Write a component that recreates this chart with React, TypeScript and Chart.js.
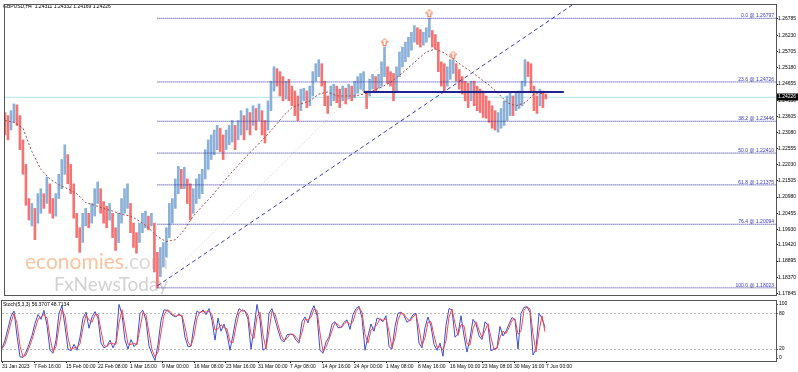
import React, { useEffect, useRef } from "react";
import { Chart, registerables } from "chart.js";

Chart.register(...registerables);

const AXIS_FONT = "'Liberation Sans', Arial, sans-serif";

// ---------- data ----------
const headerText = "GBPUSD,H4  1.24311 1.24332 1.24169 1.24226";
const stochHeaderText = "Stoch(5,3,3) 56.3707 48.7134";

// one entry every 3 H4 bars (x unit = 1 bar)
const barHighs = [
  1.2373, 1.2363, 1.2379, 1.2401, 1.2398, 1.2363, 1.2284, 1.2204, 1.2093, 1.2077,
  1.2061, 1.2109, 1.2125, 1.2109, 1.2163, 1.2141, 1.2093, 1.2109, 1.2172, 1.2220,
  1.2268, 1.2236, 1.2204, 1.2141, 1.2045, 1.1998, 1.2045, 1.2061, 1.2045, 1.2077,
  1.2125, 1.2147, 1.2125, 1.2083, 1.2068, 1.2077, 1.2045, 1.1998, 1.2045, 1.2093,
  1.2125, 1.2141, 1.2077, 1.2013, 1.1982, 1.2013, 1.2045, 1.2052, 1.2036, 1.2045,
  1.2013, 1.1918, 1.1934, 1.1950, 1.1998, 1.2077, 1.2093, 1.2157, 1.2198, 1.2188,
  1.2195, 1.2157, 1.2141, 1.2125, 1.2157, 1.2172, 1.2188, 1.2252, 1.2284, 1.2300,
  1.2316, 1.2331, 1.2322, 1.2300, 1.2316, 1.2331, 1.2347, 1.2331, 1.2347, 1.2379,
  1.2363, 1.2386, 1.2373, 1.2395, 1.2386, 1.2401, 1.2379, 1.2347, 1.2411, 1.2475,
  1.2522, 1.2516, 1.2506, 1.2490, 1.2475, 1.2481, 1.2459, 1.2443, 1.2427, 1.2449,
  1.2452, 1.2443, 1.2459, 1.2506, 1.2532, 1.2545, 1.2532, 1.2475, 1.2427, 1.2459,
  1.2465, 1.2459, 1.2449, 1.2459, 1.2452, 1.2465, 1.2459, 1.2475, 1.2490, 1.2500,
  1.2506, 1.2443, 1.2481, 1.2497, 1.2490, 1.2497, 1.2538, 1.2586, 1.2522, 1.2506,
  1.2500, 1.2522, 1.2570, 1.2586, 1.2602, 1.2618, 1.2634, 1.2656, 1.2649, 1.2643,
  1.2634, 1.2649, 1.2680, 1.2640, 1.2627, 1.2602, 1.2538, 1.2532, 1.2522, 1.2545,
  1.2545, 1.2532, 1.2513, 1.2490, 1.2475, 1.2468, 1.2475, 1.2475, 1.2459, 1.2449,
  1.2443, 1.2427, 1.2411, 1.2395, 1.2379, 1.2373, 1.2386, 1.2411, 1.2427, 1.2436,
  1.2427, 1.2436, 1.2443, 1.2475, 1.2545, 1.2538, 1.2532, 1.2459, 1.2427, 1.2449,
  1.2443, 1.2433,
];

const barLows = [
  1.2300, 1.2284, 1.2316, 1.2341, 1.2331, 1.2252, 1.2172, 1.2071, 1.2023, 1.2004,
  1.1959, 1.2013, 1.2045, 1.2061, 1.2077, 1.2045, 1.2029, 1.2036, 1.2093, 1.2125,
  1.2172, 1.2141, 1.2109, 1.2029, 1.1966, 1.1918, 1.1950, 1.2004, 1.1998, 1.2013,
  1.2036, 1.2077, 1.2045, 1.2013, 1.1998, 1.2023, 1.1966, 1.1924, 1.1950, 1.2013,
  1.2045, 1.2061, 1.1982, 1.1934, 1.1915, 1.1950, 1.1982, 1.1998, 1.1991, 1.2004,
  1.1854, 1.1802, 1.1839, 1.1870, 1.1902, 1.1966, 1.2013, 1.2061, 1.2109, 1.2125,
  1.2125, 1.2077, 1.2023, 1.2045, 1.2077, 1.2093, 1.2109, 1.2157, 1.2188, 1.2220,
  1.2236, 1.2252, 1.2246, 1.2220, 1.2252, 1.2268, 1.2277, 1.2252, 1.2284, 1.2300,
  1.2284, 1.2316, 1.2300, 1.2331, 1.2316, 1.2347, 1.2300, 1.2274, 1.2316, 1.2379,
  1.2443, 1.2459, 1.2427, 1.2411, 1.2417, 1.2411, 1.2395, 1.2363, 1.2347, 1.2379,
  1.2411, 1.2389, 1.2395, 1.2427, 1.2475, 1.2490, 1.2459, 1.2395, 1.2370, 1.2395,
  1.2411, 1.2405, 1.2389, 1.2411, 1.2401, 1.2417, 1.2411, 1.2421, 1.2436, 1.2449,
  1.2443, 1.2386, 1.2427, 1.2449, 1.2443, 1.2452, 1.2459, 1.2490, 1.2468, 1.2459,
  1.2411, 1.2443, 1.2490, 1.2522, 1.2538, 1.2554, 1.2576, 1.2602, 1.2595, 1.2586,
  1.2592, 1.2602, 1.2618, 1.2586, 1.2580, 1.2506, 1.2459, 1.2443, 1.2459, 1.2481,
  1.2500, 1.2475, 1.2449, 1.2433, 1.2411, 1.2389, 1.2411, 1.2395, 1.2379, 1.2373,
  1.2357, 1.2354, 1.2341, 1.2322, 1.2316, 1.2309, 1.2322, 1.2331, 1.2347, 1.2363,
  1.2363, 1.2379, 1.2386, 1.2395, 1.2459, 1.2490, 1.2443, 1.2379, 1.2370, 1.2395,
  1.2389, 1.2417,
];

const barDirections = (
  "dduudddddu" + "duududduuu" + "uddddduudu" + "uudddudduu" + "uuddduuudu" +
  "dduuuuuuud" + "udduuuuuuu" + "uudduuuduu" + "dudududduu" + "uddduddddu" +
  "uduuuudddu" + "uddududuuu" + "uduuduuudd" + "duuuuuuudd" + "uuuddddduu" +
  "uddddduddd" + "ddddduuuuu" + "duuuuddddu" + "dd"
).split("");

// moving average, one value every 9 bars
const maValues = [
  1.2347, 1.2341, 1.2322, 1.2246, 1.2188, 1.2157, 1.2138, 1.2125, 1.2109, 1.2080,
  1.2071, 1.2061, 1.2052, 1.2042, 1.2036, 1.2020, 1.1998, 1.1969, 1.1953, 1.1959,
  1.1991, 1.2036, 1.2068, 1.2099, 1.2134, 1.2169, 1.2201, 1.2233, 1.2262, 1.2293,
  1.2325, 1.2360, 1.2389, 1.2401, 1.2411, 1.2433, 1.2440, 1.2427, 1.2427, 1.2427,
  1.2433, 1.2443, 1.2456, 1.2471, 1.2494, 1.2519, 1.2545, 1.2570, 1.2580, 1.2567,
  1.2548, 1.2525, 1.2506, 1.2484, 1.2462, 1.2436, 1.2405, 1.2395, 1.2405, 1.2433,
  1.2436,
];

const stochMain = [
  21, 35, 55, 75, 84, 42, 7, 6, 15, 28,
  43, 63, 78, 70, 85, 60, 18, 13, 35, 80,
  93, 58, 20, 17, 28, 18, 40, 72, 82, 55,
  74, 83, 72, 30, 22, 25, 35, 22, 33, 95,
  78, 35, 20, 36, 24, 30, 80, 85, 68, 25,
  12, 1, 28, 68, 86, 85, 80, 76, 74, 79,
  74, 40, 24, 25, 60, 84, 80, 86, 78, 88,
  68, 35, 72, 50, 62, 45, 18, 44, 72, 88,
  84, 84, 70, 20, 55, 95, 69, 18, 22, 80,
  88, 70, 52, 36, 32, 44, 45, 44, 35, 30,
  66, 74, 64, 82, 93, 76, 18, 13, 32, 40,
  62, 66, 56, 56, 65, 69, 53, 78, 88, 92,
  72, 18, 42, 62, 50, 72, 70, 66, 76, 24,
  20, 58, 80, 82, 76, 65, 69, 78, 80, 30,
  22, 56, 74, 58, 28, 18, 30, 8, 60, 88,
  86, 40, 45, 76, 42, 15, 38, 70, 62, 42,
  36, 66, 60, 17, 20, 22, 58, 42, 50, 62,
  73, 69, 20, 80, 90, 91, 82, 10, 20, 80,
  72, 56,
];

const stochSignal = [
  21, 28, 45, 65, 80, 63, 25, 7, 10, 22,
  36, 53, 70, 74, 78, 72, 39, 16, 24, 58,
  86, 76, 39, 19, 22, 23, 29, 56, 77, 69,
  65, 78, 78, 51, 26, 24, 30, 29, 28, 64,
  86, 57, 28, 28, 30, 27, 55, 82, 77, 47,
  19, 7, 15, 48, 77, 86, 83, 78, 75, 77,
  77, 57, 32, 25, 42, 72, 82, 83, 82, 83,
  78, 52, 54, 61, 56, 54, 32, 31, 58, 80,
  86, 84, 77, 45, 38, 75, 82, 44, 20, 51,
  84, 79, 61, 44, 34, 38, 45, 45, 40, 33,
  48, 70, 69, 73, 87, 85, 47, 16, 23, 36,
  51, 64, 61, 56, 61, 67, 61, 66, 83, 90,
  82, 45, 30, 52, 56, 61, 71, 68, 71, 50,
  22, 39, 69, 81, 79, 71, 67, 74, 79, 55,
  26, 39, 65, 66, 43, 23, 24, 19, 34, 74,
  87, 63, 43, 61, 59, 29, 27, 54, 66, 52,
  39, 51, 63, 39, 19, 21, 40, 50, 46, 56,
  68, 71, 45, 50, 85, 91, 87, 46, 15, 50,
  76, 49,
];

const timeLabels = [
  "31 Jan 2023", "7 Feb 16:00", "15 Feb 00:00", "22 Feb 08:00", "1 Mar 16:00",
  "9 Mar 00:00", "16 Mar 08:00", "23 Mar 16:00", "31 Mar 00:00", "7 Apr 08:00",
  "14 Apr 16:00", "24 Apr 00:00", "1 May 08:00", "8 May 16:00", "16 May 00:00",
  "23 May 08:00", "30 May 16:00", "7 Jun 00:00",
];
const TIME_LABEL_STEP = 32; // bars between time labels

const priceTicks = [
  1.26785, 1.2623, 1.25705, 1.2518, 1.24655, 1.2413, 1.23605, 1.2308, 1.22555,
  1.2203, 1.21505, 1.2098, 1.20455, 1.1993, 1.1942, 1.18895, 1.1837, 1.17845,
];

const fibLevels = [0.0, 23.6, 38.2, 50.0, 61.8, 76.4, 100.0];
const fibPrices = [1.26797, 1.24726, 1.23446, 1.2241, 1.21375, 1.20094, 1.18023];
const fibAnchorBars = [153, 426]; // swing low bar, swing high bar

const fractalBars = [381, 426, 450];
const levelLinePrice = 1.244;
const levelLineBars = [360, 561];
const trendBars = [153, 600];
const trendPrices = [1.1809, 1.279];
const lastPrice = 1.24226;

const stochLevelLines = [80, 20];
const stochAxisLabels = [100, 80, 20, 0];

// ---------- layout constants ----------
const BAR_STEP = 3;
const MA_STEP = 9;
const X_MAX = 774;
const Y_MIN = 1.17791;
const Y_MAX = 1.2723;
const UP_COLOR = "#8bb1d8";
const DOWN_COLOR = "#f57373";
const FIB_COLOR = "#2b2b9c";

function makeArrow(): HTMLCanvasElement {
  const c = document.createElement("canvas");
  c.width = 8;
  c.height = 18;
  const g = c.getContext("2d")!;
  g.strokeStyle = "#ff6c3c";
  g.lineWidth = 1;
  g.beginPath();
  g.moveTo(4, 0.5);
  g.lineTo(7.5, 4);
  g.lineTo(5.5, 4);
  g.lineTo(5.5, 7.5);
  g.lineTo(2.5, 7.5);
  g.lineTo(2.5, 4);
  g.lineTo(0.5, 4);
  g.closePath();
  g.stroke();
  return c;
}

const mainDecor = {
  id: "mainDecor",
  beforeDatasetsDraw(chart: any) {
    const { ctx, chartArea: a } = chart;
    ctx.save();
    ctx.beginPath();
    ctx.rect(a.left, a.top, a.right - a.left, a.bottom - a.top);
    ctx.clip();
    ctx.textAlign = "left";
    ctx.textBaseline = "alphabetic";
    ctx.font = "21px Lato, 'Open Sans', sans-serif";
    ctx.fillStyle = "#f8c3a0";
    ctx.fillText("economies", 25, 269);
    const w = ctx.measureText("economies").width;
    ctx.fillStyle = "#dadada";
    ctx.fillText(".com", 25 + w, 269);
    ctx.font = "19px Lato, 'Open Sans', sans-serif";
    ctx.fillStyle = "#d2d2d2";
    ctx.fillText("FxNewsToday", 54, 291);
    ctx.restore();
  },
  afterDraw(chart: any) {
    const { ctx, chartArea: a } = chart;
    const ys = chart.scales.y;
    ctx.save();
    // fib labels
    ctx.font = `5px ${AXIS_FONT}`;
    ctx.fillStyle = "#3a3ab8";
    ctx.textAlign = "right";
    ctx.textBaseline = "middle";
    fibPrices.forEach((p, i) => {
      const y = ys.getPixelForValue(p);
      ctx.fillText(`${fibLevels[i].toFixed(1)} @ ${p.toFixed(5)}`, a.right - 2, y - 2.5);
    });
    // header
    ctx.fillStyle = "#000";
    ctx.textAlign = "left";
    ctx.fillText(headerText, 3, 7);
    // frame
    ctx.strokeStyle = "#555";
    ctx.lineWidth = 1;
    ctx.strokeRect(a.left - 0.5, a.top - 0.5, a.right - a.left + 1, a.bottom - a.top + 1);
    // last price box
    const py = Math.round(ys.getPixelForValue(lastPrice));
    ctx.fillStyle = "#000";
    ctx.fillRect(a.right + 1, py - 3.5, 21, 7);
    ctx.fillStyle = "#fff";
    ctx.fillText(lastPrice.toFixed(5), a.right + 2, py);
    ctx.restore();
  },
};

const stochDecor = {
  id: "stochDecor",
  beforeDatasetsDraw(chart: any) {
    const { ctx, chartArea: a } = chart;
    const ys = chart.scales.y;
    ctx.save();
    ctx.strokeStyle = "#b8b8b8";
    ctx.lineWidth = 1;
    ctx.setLineDash([2, 2]);
    stochLevelLines.forEach((v) => {
      const y = Math.round(ys.getPixelForValue(v)) + 0.5;
      ctx.beginPath();
      ctx.moveTo(a.left, y);
      ctx.lineTo(a.right, y);
      ctx.stroke();
    });
    ctx.restore();
  },
  afterDraw(chart: any) {
    const { ctx, chartArea: a } = chart;
    const ys = chart.scales.y;
    ctx.save();
    ctx.strokeStyle = "#555";
    ctx.lineWidth = 1;
    ctx.strokeRect(a.left - 0.5, a.top + 0.5, a.right - a.left + 1, a.bottom - a.top);
    ctx.font = `5px ${AXIS_FONT}`;
    ctx.fillStyle = "#000";
    ctx.textAlign = "left";
    ctx.textBaseline = "middle";
    ctx.fillText(stochHeaderText, 3, a.top + 4.5);
    stochAxisLabels.forEach((v) => {
      const raw = ys.getPixelForValue(v);
      const y = Math.min(Math.max(raw, a.top + 4), a.bottom - 3);
      ctx.fillText(String(v), a.right + 3, y);
      ctx.beginPath();
      ctx.moveTo(a.right, Math.round(y) + 0.5);
      ctx.lineTo(a.right + 2, Math.round(y) + 0.5);
      ctx.stroke();
    });
    ctx.restore();
  },
};

export default function App() {
  const mainRef = useRef<HTMLCanvasElement>(null);
  const stochRef = useRef<HTMLCanvasElement>(null);

  useEffect(() => {
    const arrow = makeArrow();
    const line = (data: any[], color: string, extra: any = {}) => ({
      type: "line",
      data,
      borderColor: color,
      borderWidth: 1,
      pointRadius: 0,
      fill: false,
      ...extra,
    });

    const datasets: any[] = [
      {
        type: "bar",
        data: barHighs.map((h, i) => ({ x: i * BAR_STEP, y: [barLows[i], h] })),
        backgroundColor: barDirections.map((d) => (d === "u" ? UP_COLOR : DOWN_COLOR)),
        borderWidth: 0,
        barThickness: 2,
        order: 10,
      },
      line(
        [
          { x: 0, y: lastPrice },
          { x: X_MAX, y: lastPrice },
        ],
        "#b2e2ee",
        { order: 11 }
      ),
      line(
        maValues.map((v, k) => ({ x: k * MA_STEP, y: v })),
        "#a04a48",
        { borderDash: [2, 2], order: 5 }
      ),
      line(
        fibAnchorBars.map((b, j) => ({ x: b, y: j === 0 ? fibPrices[fibPrices.length - 1] : fibPrices[0] })),
        "rgba(190,190,190,0.8)",
        { borderDash: [1, 2], order: 6 }
      ),
      ...fibPrices.map((p) =>
        line(
          [
            { x: fibAnchorBars[0], y: p },
            { x: X_MAX, y: p },
          ],
          FIB_COLOR,
          { borderDash: [1, 1], order: 4 }
        )
      ),
      line(
        trendBars.map((b, j) => ({ x: b, y: trendPrices[j] })),
        "#3c3cb0",
        { borderDash: [4, 3], order: 3 }
      ),
      line(
        levelLineBars.map((b) => ({ x: b, y: levelLinePrice })),
        "#22228e",
        { borderWidth: 2, order: 2 }
      ),
      {
        type: "line",
        showLine: false,
        data: fractalBars.map((b) => ({ x: b, y: barHighs[b / BAR_STEP] })),
        pointStyle: arrow,
        pointRadius: 4,
        order: 1,
      },
    ];

    const main = new Chart(mainRef.current!, {
      type: "bar",
      data: { datasets },
      options: {
        animation: false,
        responsive: false,
        devicePixelRatio: 1,
        events: [],
        layout: { padding: { left: 2, top: 2, right: 0, bottom: 1 } },
        plugins: { legend: { display: false }, tooltip: { enabled: false } },
        scales: {
          x: { type: "linear", min: 0, max: X_MAX, display: false, offset: false, grid: { offset: false } },
          y: {
            type: "linear",
            position: "right",
            min: Y_MIN,
            max: Y_MAX,
            beginAtZero: false,
            afterFit: (s: any) => {
              s.width = 22;
            },
            afterBuildTicks: (s: any) => {
              s.ticks = priceTicks.map((v) => ({ value: v }));
            },
            ticks: {
              font: { family: AXIS_FONT, size: 5 },
              color: "#000",
              padding: 0,
              callback: (v: any) => Number(v).toFixed(5),
            },
            grid: { drawOnChartArea: false, drawTicks: true, tickLength: 2, color: "#000" },
            border: { display: false },
          },
        },
      } as any,
      plugins: [mainDecor],
    } as any);

    const stoch = new Chart(stochRef.current!, {
      type: "line",
      data: {
        datasets: [
          {
            data: stochMain.map((v, i) => ({ x: i * BAR_STEP, y: v })),
            borderColor: "#3d4ed6",
            borderWidth: 1,
            pointRadius: 0,
            order: 2,
          },
          {
            data: stochSignal.map((v, i) => ({ x: i * BAR_STEP, y: v })),
            borderColor: "#f24a4a",
            borderWidth: 1,
            pointRadius: 0,
            order: 1,
          },
        ],
      },
      options: {
        animation: false,
        responsive: false,
        devicePixelRatio: 1,
        events: [],
        layout: { padding: { left: 2, top: 0, right: 0, bottom: 0 } },
        plugins: { legend: { display: false }, tooltip: { enabled: false } },
        scales: {
          x: {
            type: "linear",
            min: 0,
            max: X_MAX,
            offset: false,
            afterFit: (s: any) => {
              s.height = 11;
            },
            afterBuildTicks: (s: any) => {
              s.ticks = timeLabels.map((_, k) => ({ value: k * TIME_LABEL_STEP }));
            },
            ticks: {
              autoSkip: false,
              maxRotation: 0,
              minRotation: 0,
              align: "start",
              padding: 1,
              font: { family: AXIS_FONT, size: 5 },
              color: "#000",
              callback: (_v: any, idx: number) => timeLabels[idx],
            },
            grid: { drawOnChartArea: false, drawTicks: true, tickLength: 2, color: "#000" },
            border: { display: false },
          },
          y: {
            type: "linear",
            position: "right",
            min: 0,
            max: 102.4,
            afterFit: (s: any) => {
              s.width = 22;
            },
            ticks: { display: false },
            grid: { display: false },
            border: { display: false },
          },
        },
      } as any,
      plugins: [stochDecor],
    } as any);

    return () => {
      main.destroy();
      stoch.destroy();
    };
  }, []);

  return (
    <div
      style={{
        position: "absolute",
        left: 0,
        top: 0,
        width: 798,
        height: 372,
        background: "#fff",
        overflow: "hidden",
      }}
    >
      <canvas
        ref={mainRef}
        width={798}
        height={300}
        style={{ position: "absolute", left: 0, top: 0, width: 798, height: 300 }}
      />
      <canvas
        ref={stochRef}
        width={798}
        height={72}
        style={{ position: "absolute", left: 0, top: 300, width: 798, height: 72 }}
      />
    </div>
  );
}
